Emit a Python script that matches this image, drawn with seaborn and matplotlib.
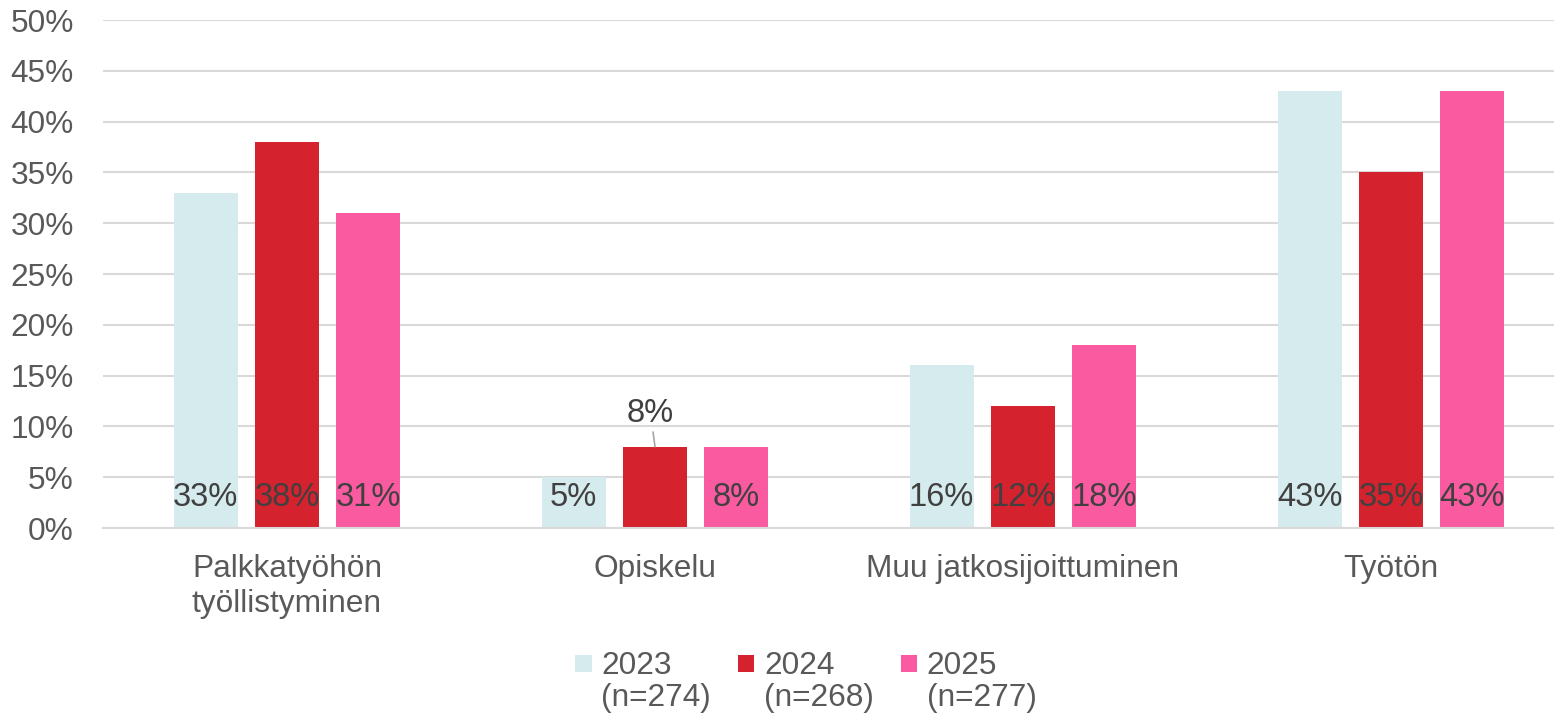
import matplotlib
matplotlib.use("Agg")
import matplotlib.pyplot as plt
import seaborn as sns
import pandas as pd
from matplotlib.patches import Rectangle, Patch
from matplotlib.legend_handler import HandlerPatch

categories = ["Palkkatyöhön\ntyöllistyminen", "Opiskelu", "Muu jatkosijoittuminen", "Työtön"]
years = ["2023", "2024", "2025"]
legend_labels = ["2023\n(n=274)", "2024\n(n=268)", "2025\n(n=277)"]
values_2023 = [33, 5, 16, 43]
values_2024 = [38, 8, 12, 35]
values_2025 = [31, 8, 18, 43]
colors = ["#D6EBEE", "#D4222E", "#F95AA0"]
yticks = [0, 5, 10, 15, 20, 25, 30, 35, 40, 45, 50]

sns.set_theme(style="white")
plt.rcParams["font.family"] = ["Liberation Sans", "DejaVu Sans"]

rows = []
for y, vals in zip(years, [values_2023, values_2024, values_2025]):
    for c, v in zip(categories, vals):
        rows.append({"cat": c, "year": y, "val": v})
df = pd.DataFrame(rows)

fig = plt.figure(figsize=(15.54, 7.16), dpi=100)
ax = fig.add_axes([103 / 1554, 1 - 528 / 716, 1 - 103 / 1554, (528 - 20) / 716])

sns.barplot(data=df, x="cat", y="val", hue="year", order=categories, hue_order=years,
            palette=colors, width=0.664, gap=0.214, ax=ax, legend=False,
            saturation=1, edgecolor="none", linewidth=0)

ax.set_ylim(0, 50)
ax.set_xlim(-0.5, 3.443)
ax.set_yticks(yticks)
ax.set_yticklabels([f"{t}%" for t in yticks])
ax.yaxis.grid(True, color="#D9D9D9", linewidth=1.5)
ax.set_axisbelow(True)
for s in ["top", "right", "left"]:
    ax.spines[s].set_visible(False)
ax.spines["bottom"].set_color("#D9D9D9")
ax.spines["bottom"].set_linewidth(1.5)
ax.tick_params(axis="both", length=0, labelsize=22.8, colors="#595959")
ax.tick_params(axis="y", pad=21)
ax.tick_params(axis="x", pad=19)
ax.set_xlabel("")
ax.set_ylabel("")

lab_color = "#404040"
patches = [p for p in ax.patches if p.get_height() > 0]
patches.sort(key=lambda p: p.get_x())
all_vals = []
for j in range(len(categories)):
    for vals in [values_2023, values_2024, values_2025]:
        all_vals.append(vals[j])
for k, (p, v) in enumerate(zip(patches, all_vals)):
    xc = p.get_x() + p.get_width() / 2
    if k == 4:  # Opiskelu 2024: label above bar with leader line
        ax.annotate(f"{v}%", xy=(xc, v), xytext=(xc - 0.012, 11.3), ha="center", va="center",
                    fontsize=23.5, color=lab_color,
                    arrowprops=dict(arrowstyle="-", color="#A6A6A6", lw=1.2,
                                    shrinkA=14, shrinkB=0))
    else:
        ax.text(xc, 3.0, f"{v}%", ha="center", va="center", fontsize=23.5, color=lab_color)


def make_square(legend, orig_handle, xdescent, ydescent, width, height, fontsize):
    s = 0.52 * fontsize
    return Rectangle((-xdescent, -ydescent + 0.62 * fontsize), s, s)


handles = [Patch(facecolor=c, edgecolor="none") for c in colors]
leg = fig.legend(handles, legend_labels, loc="upper center", bbox_to_anchor=(806 / 1554, 1 - 622 / 716),
                 ncol=3, frameon=False, fontsize=22.8, handlelength=0.52, handleheight=0.52,
                 handletextpad=0.3, columnspacing=0.85, labelspacing=0.2,
                 handler_map={Patch: HandlerPatch(patch_func=make_square)})
for t in leg.get_texts():
    t.set_color("#595959")
    t.set_linespacing(1.1)

fig.savefig("out.png", dpi=100)
